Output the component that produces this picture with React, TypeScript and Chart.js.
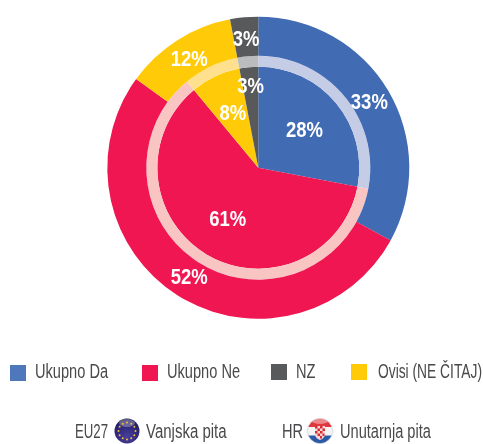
import React, { useEffect, useRef } from "react";
import { Chart, registerables } from "chart.js";

Chart.register(...registerables);

const categories = ["Ukupno Da", "Ukupno Ne", "Ovisi (NE ČITAJ)", "NZ"];
const outerValues = [33, 52, 12, 3]; // EU27 – Vanjska pita
const innerValues = [28, 61, 8, 3]; // HR – Unutarnja pita
const sliceColors = ["#416BB3", "#EF1651", "#FFCB08", "#58595B"];
const ringColors = ["#C5CCE6", "#F8C5C3", "#FFE08F", "#BBBCBD"];
const innerLabelRadii = [60, 60, 60, 82];
const FONT = '"Liberation Sans", Arial, sans-serif';
const LABEL_SQUEEZE = 0.84;
const TEXT_SQUEEZE = 0.73;
const OUTER_LABEL_INSET = 2.5;

const percentLabels = {
  id: "percentLabels",
  afterDatasetsDraw(chart: any) {
    const { ctx } = chart;
    chart.data.datasets.forEach((ds: any, di: number) => {
      if (ds.label === "prsten") return;
      chart.getDatasetMeta(di).data.forEach((arc: any, i: number) => {
        const { x, y, startAngle, endAngle, innerRadius, outerRadius } = arc.getProps(
          ["x", "y", "startAngle", "endAngle", "innerRadius", "outerRadius"],
          true
        );
        const a = (startAngle + endAngle) / 2;
        const r = ds.label === "HR" ? innerLabelRadii[i] : (innerRadius + outerRadius) / 2 - OUTER_LABEL_INSET;
        ctx.save();
        ctx.translate(x + Math.cos(a) * r, y + Math.sin(a) * r + 1);
        ctx.scale(LABEL_SQUEEZE, 1);
        ctx.fillStyle = "#fff";
        ctx.font = `bold 22px ${FONT}`;
        ctx.textAlign = "center";
        ctx.textBaseline = "middle";
        ctx.fillText(`${ds.data[i]}%`, 0, 0);
        ctx.restore();
      });
    });
  },
};

const textStyle: React.CSSProperties = {
  position: "absolute",
  fontFamily: FONT,
  fontSize: 20,
  lineHeight: "24px",
  color: "#4a4a4c",
  whiteSpace: "nowrap",
  transformOrigin: "left center",
};

function Text({ x, y, squeeze = TEXT_SQUEEZE, children }: { x: number; y: number; squeeze?: number; children: React.ReactNode }) {
  return <div style={{ ...textStyle, left: x, top: y - 12, transform: `scaleX(${squeeze})` }}>{children}</div>;
}

function Swatch({ x, y, color }: { x: number; y: number; color: string }) {
  return <div style={{ position: "absolute", left: x, top: y, width: 16, height: 16, background: color }} />;
}

function EuFlag({ cx, cy }: { cx: number; cy: number }) {
  const stars = Array.from({ length: 12 }, (_, i) => (i * Math.PI) / 6);
  return (
    <svg style={{ position: "absolute", left: cx - 14, top: cy - 14 }} width={28} height={28} viewBox="-14 -14 28 28">
      <defs>
        <radialGradient id="eu" cx="50%" cy="75%" r="75%">
          <stop offset="0%" stopColor="#4a3f9e" />
          <stop offset="70%" stopColor="#2b2475" />
          <stop offset="100%" stopColor="#1b1850" />
        </radialGradient>
      </defs>
      <circle r={12.5} fill="url(#eu)" />
      <ellipse cy={-8} rx={8} ry={4} fill="#fff" opacity={0.3} />
      {stars.map((a, i) => (
        <circle key={i} cx={Math.cos(a) * 8.5} cy={Math.sin(a) * 8.5} r={1} fill="#f2c230" />
      ))}
    </svg>
  );
}

function HrFlag({ cx, cy }: { cx: number; cy: number }) {
  return (
    <svg style={{ position: "absolute", left: cx - 14, top: cy - 14 }} width={28} height={28} viewBox="-14 -14 28 28">
      <defs>
        <clipPath id="hrc">
          <circle r={12.5} />
        </clipPath>
      </defs>
      <g clipPath="url(#hrc)">
        <rect x={-14} y={-14} width={28} height={10} fill="#e0383e" />
        <rect x={-14} y={-4} width={28} height={8.5} fill="#f4f4f4" />
        <rect x={-14} y={4.5} width={28} height={10} fill="#2a5aa8" />
        <path d="M-5 -5 H5 V3 Q5 7 0 9 Q-5 7 -5 3 Z" fill="#f9d6d6" />
        <g fill="#d92b32">
          <rect x={-5} y={-5} width={2.5} height={2.5} />
          <rect x={0} y={-5} width={2.5} height={2.5} />
          <rect x={-2.5} y={-2.5} width={2.5} height={2.5} />
          <rect x={2.5} y={-2.5} width={2.5} height={2.5} />
          <rect x={-5} y={0} width={2.5} height={2.5} />
          <rect x={0} y={0} width={2.5} height={2.5} />
          <rect x={-2.5} y={2.5} width={2.5} height={2.5} />
          <rect x={2.5} y={2.5} width={2} height={2.5} />
          <rect x={0} y={5} width={2} height={2.5} />
        </g>
        <ellipse cy={-10} rx={8} ry={3} fill="#fff" opacity={0.4} />
      </g>
      <circle r={12.7} fill="none" stroke="#d5d5d8" strokeWidth={0.8} />
    </svg>
  );
}

export default function App() {
  const ref = useRef<HTMLCanvasElement>(null);

  useEffect(() => {
    document.body.style.margin = "0";
    const chart = new Chart(ref.current!, {
      type: "pie",
      data: {
        labels: categories,
        datasets: [
          { label: "EU27", data: outerValues, backgroundColor: sliceColors, borderWidth: 0, weight: 39 },
          { label: "prsten", data: innerValues, backgroundColor: ringColors, borderWidth: 0, weight: 11 },
          { label: "HR", data: innerValues, backgroundColor: sliceColors, borderWidth: 0, weight: 101 },
        ],
      } as any,
      options: {
        animation: false,
        responsive: false,
        layout: { padding: { left: 107.3, right: 73.7, top: 16.7, bottom: 125.3 } },
        plugins: { legend: { display: false }, tooltip: { enabled: false } },
      },
      plugins: [percentLabels],
    } as any);
    return () => chart.destroy();
  }, []);

  return (
    <div style={{ position: "relative", width: 483, height: 444, overflow: "hidden", background: "#fff" }}>
      <canvas ref={ref} width={483} height={444} style={{ position: "absolute", left: 0, top: 0 }} />
      <Swatch x={10} y={365} color="#4F77BB" />
      <Text x={35} y={371}>{categories[0]}</Text>
      <Swatch x={142} y={365} color={sliceColors[1]} />
      <Text x={167} y={371}>{categories[1]}</Text>
      <Swatch x={271} y={364} color={sliceColors[3]} />
      <Text x={296} y={371}>{categories[3]}</Text>
      <Swatch x={351} y={364} color={sliceColors[2]} />
      <Text x={378} y={371} squeeze={0.69}>{categories[2]}</Text>
      <Text x={75} y={431} squeeze={0.66}>EU27</Text>
      <EuFlag cx={127} cy={431} />
      <Text x={146} y={431} squeeze={0.75}>Vanjska pita</Text>
      <Text x={282} y={431}>HR</Text>
      <HrFlag cx={320} cy={431} />
      <Text x={340} y={431}>Unutarnja pita</Text>
    </div>
  );
}
